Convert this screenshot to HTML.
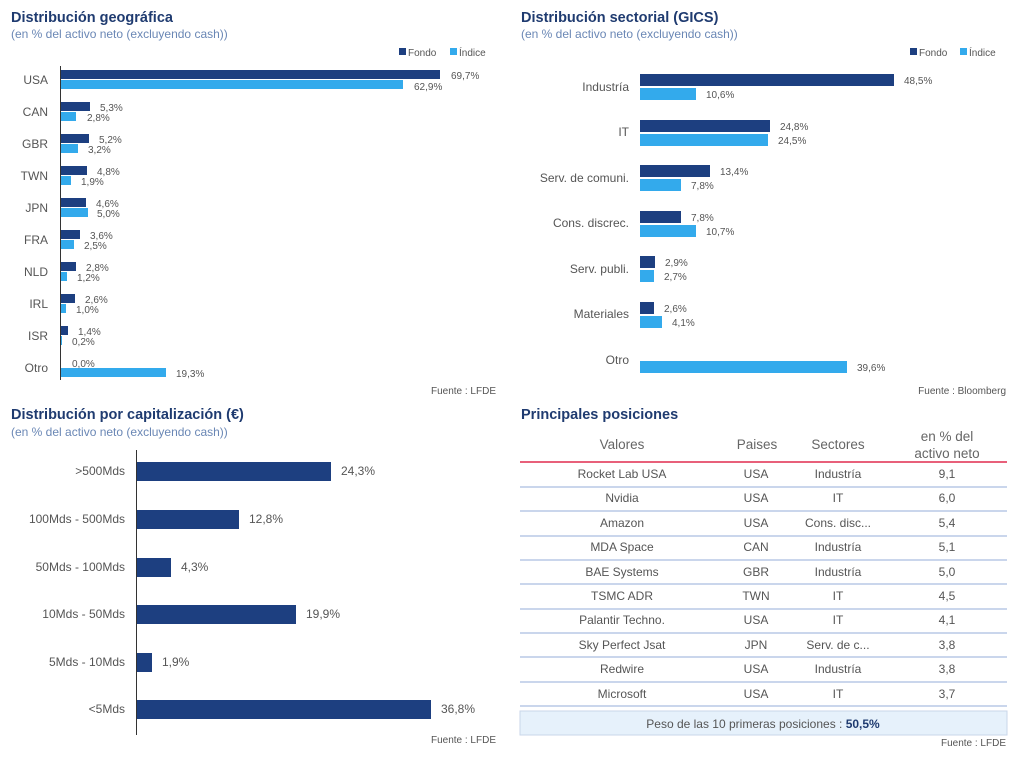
<!DOCTYPE html>
<html><head><meta charset="utf-8"><style>
body{margin:0;background:#fff;}
svg{display:block;font-family:"Liberation Sans",sans-serif;}
.t{font-size:14.5px;font-weight:bold;fill:#1f3b70;}
.s{font-size:12px;fill:#6a87b5;}
.c{font-size:12px;fill:#555;}
.v{font-size:10px;fill:#555;}
.f{font-size:10px;fill:#555;}
.th{font-size:13.5px;fill:#666;}
.td{font-size:12px;fill:#555;}
</style></head><body>
<svg width="1024" height="759" viewBox="0 0 1024 759">
<!-- Geo -->
<text class="t" x="11" y="22">Distribución geográfica</text>
<text class="s" x="11" y="38">(en % del activo neto (excluyendo cash))</text>
<rect x="399" y="48" width="7" height="7" fill="#1d3f80"/><text class="f" x="408" y="56">Fondo</text>
<rect x="450" y="48" width="7" height="7" fill="#33aaec"/><text class="f" x="459" y="56">Índice</text>
<line x1="60.5" y1="66" x2="60.5" y2="380" stroke="#333"/>
<g fill="#1d3f80">
<rect x="61" y="70" width="379" height="9"/><rect x="61" y="102" width="29" height="9"/><rect x="61" y="134" width="28" height="9"/><rect x="61" y="166" width="26" height="9"/><rect x="61" y="198" width="25" height="9"/><rect x="61" y="230" width="19" height="9"/><rect x="61" y="262" width="15" height="9"/><rect x="61" y="294" width="14" height="9"/><rect x="61" y="326" width="7" height="9"/>
</g>
<g fill="#33aaec">
<rect x="61" y="80" width="342" height="9"/><rect x="61" y="112" width="15" height="9"/><rect x="61" y="144" width="17" height="9"/><rect x="61" y="176" width="10" height="9"/><rect x="61" y="208" width="27" height="9"/><rect x="61" y="240" width="13" height="9"/><rect x="61" y="272" width="6" height="9"/><rect x="61" y="304" width="5" height="9"/><rect x="61" y="336" width="1" height="9"/><rect x="61" y="368" width="105" height="9"/>
</g>
<g class="c" text-anchor="end">
<text x="48" y="84">USA</text><text x="48" y="116">CAN</text><text x="48" y="148">GBR</text><text x="48" y="180">TWN</text><text x="48" y="212">JPN</text><text x="48" y="244">FRA</text><text x="48" y="276">NLD</text><text x="48" y="308">IRL</text><text x="48" y="340">ISR</text><text x="48" y="372">Otro</text>
</g>
<g class="v">
<text x="451" y="79">69,7%</text><text x="414" y="90">62,9%</text>
<text x="100" y="111">5,3%</text><text x="87" y="121">2,8%</text>
<text x="99" y="143">5,2%</text><text x="88" y="153">3,2%</text>
<text x="97" y="175">4,8%</text><text x="81" y="185">1,9%</text>
<text x="96" y="207">4,6%</text><text x="97" y="217">5,0%</text>
<text x="90" y="239">3,6%</text><text x="84" y="249">2,5%</text>
<text x="86" y="271">2,8%</text><text x="77" y="281">1,2%</text>
<text x="85" y="303">2,6%</text><text x="76" y="313">1,0%</text>
<text x="78" y="335">1,4%</text><text x="72" y="345">0,2%</text>
<text x="72" y="367">0,0%</text><text x="176" y="377">19,3%</text>
</g>
<text class="f" x="496" y="394" text-anchor="end">Fuente : LFDE</text>

<!-- Sector -->
<text class="t" x="521" y="22">Distribución sectorial (GICS)</text>
<text class="s" x="521" y="38">(en % del activo neto (excluyendo cash))</text>
<rect x="910" y="48" width="7" height="7" fill="#1d3f80"/><text class="f" x="919" y="56">Fondo</text>
<rect x="960" y="48" width="7" height="7" fill="#33aaec"/><text class="f" x="969" y="56">Índice</text>
<g fill="#1d3f80">
<rect x="640" y="74" width="254" height="12"/><rect x="640" y="120" width="130" height="12"/><rect x="640" y="165" width="70" height="12"/><rect x="640" y="211" width="41" height="12"/><rect x="640" y="256" width="15" height="12"/><rect x="640" y="302" width="14" height="12"/>
</g>
<g fill="#33aaec">
<rect x="640" y="88" width="56" height="12"/><rect x="640" y="134" width="128" height="12"/><rect x="640" y="179" width="41" height="12"/><rect x="640" y="225" width="56" height="12"/><rect x="640" y="270" width="14" height="12"/><rect x="640" y="316" width="22" height="12"/><rect x="640" y="361" width="207" height="12"/>
</g>
<g class="c" text-anchor="end">
<text x="629" y="91">Industría</text><text x="629" y="136">IT</text><text x="629" y="182">Serv. de comuni.</text><text x="629" y="227">Cons. discrec.</text><text x="629" y="273">Serv. publi.</text><text x="629" y="318">Materiales</text><text x="629" y="364">Otro</text>
</g>
<g class="v">
<text x="904" y="84">48,5%</text><text x="706" y="98">10,6%</text>
<text x="780" y="130">24,8%</text><text x="778" y="144">24,5%</text>
<text x="720" y="175">13,4%</text><text x="691" y="189">7,8%</text>
<text x="691" y="221">7,8%</text><text x="706" y="235">10,7%</text>
<text x="665" y="266">2,9%</text><text x="664" y="280">2,7%</text>
<text x="664" y="312">2,6%</text><text x="672" y="326">4,1%</text>
<text x="857" y="371">39,6%</text>
</g>
<text class="f" x="1006" y="394" text-anchor="end">Fuente : Bloomberg</text>

<!-- Cap -->
<text class="t" x="11" y="419">Distribución por capitalización (€)</text>
<text class="s" x="11" y="436">(en % del activo neto (excluyendo cash))</text>
<line x1="136.5" y1="450" x2="136.5" y2="735" stroke="#333"/>
<g fill="#1d3f80">
<rect x="137" y="462" width="194" height="19"/><rect x="137" y="510" width="102" height="19"/><rect x="137" y="558" width="34" height="19"/><rect x="137" y="605" width="159" height="19"/><rect x="137" y="653" width="15" height="19"/><rect x="137" y="700" width="294" height="19"/>
</g>
<g class="c" text-anchor="end">
<text x="125" y="475">&gt;500Mds</text><text x="125" y="523">100Mds - 500Mds</text><text x="125" y="571">50Mds - 100Mds</text><text x="125" y="618">10Mds - 50Mds</text><text x="125" y="666">5Mds - 10Mds</text><text x="125" y="713">&lt;5Mds</text>
</g>
<g class="c">
<text x="341" y="475">24,3%</text><text x="249" y="523">12,8%</text><text x="181" y="571">4,3%</text><text x="306" y="618">19,9%</text><text x="162" y="666">1,9%</text><text x="441" y="713">36,8%</text>
</g>
<text class="f" x="496" y="743" text-anchor="end">Fuente : LFDE</text>

<!-- Table -->
<text class="t" x="521" y="419">Principales posiciones</text>
<g class="th" text-anchor="middle">
<text x="622" y="449">Valores</text><text x="757" y="449">Paises</text><text x="838" y="449">Sectores</text><text x="947" y="441">en % del</text><text x="947" y="458">activo neto</text>
</g>
<line x1="520" y1="462" x2="1007" y2="462" stroke="#e8607a" stroke-width="2"/>
<g stroke="#b8c8e6" stroke-width="1.5">
<line x1="520" y1="487" x2="1007" y2="487"/><line x1="520" y1="511" x2="1007" y2="511"/><line x1="520" y1="536" x2="1007" y2="536"/><line x1="520" y1="560" x2="1007" y2="560"/><line x1="520" y1="584" x2="1007" y2="584"/><line x1="520" y1="609" x2="1007" y2="609"/><line x1="520" y1="633" x2="1007" y2="633"/><line x1="520" y1="657" x2="1007" y2="657"/><line x1="520" y1="682" x2="1007" y2="682"/><line x1="520" y1="706" x2="1007" y2="706"/>
</g>
<rect x="520" y="711" width="487" height="24" fill="#e6f1fb" stroke="#c8d6ea"/>
<g class="td" text-anchor="middle">
<text x="622" y="478">Rocket Lab USA</text><text x="756" y="478">USA</text><text x="838" y="478">Industría</text><text x="947" y="478">9,1</text>
<text x="622" y="502">Nvidia</text><text x="756" y="502">USA</text><text x="838" y="502">IT</text><text x="947" y="502">6,0</text>
<text x="622" y="527">Amazon</text><text x="756" y="527">USA</text><text x="838" y="527">Cons. disc...</text><text x="947" y="527">5,4</text>
<text x="622" y="551">MDA Space</text><text x="756" y="551">CAN</text><text x="838" y="551">Industría</text><text x="947" y="551">5,1</text>
<text x="622" y="576">BAE Systems</text><text x="756" y="576">GBR</text><text x="838" y="576">Industría</text><text x="947" y="576">5,0</text>
<text x="622" y="600">TSMC ADR</text><text x="756" y="600">TWN</text><text x="838" y="600">IT</text><text x="947" y="600">4,5</text>
<text x="622" y="624">Palantir Techno.</text><text x="756" y="624">USA</text><text x="838" y="624">IT</text><text x="947" y="624">4,1</text>
<text x="622" y="649">Sky Perfect Jsat</text><text x="756" y="649">JPN</text><text x="838" y="649">Serv. de c...</text><text x="947" y="649">3,8</text>
<text x="622" y="673">Redwire</text><text x="756" y="673">USA</text><text x="838" y="673">Industría</text><text x="947" y="673">3,8</text>
<text x="622" y="698">Microsoft</text><text x="756" y="698">USA</text><text x="838" y="698">IT</text><text x="947" y="698">3,7</text>
</g>
<text class="td" x="763" y="728" text-anchor="middle">Peso de las 10 primeras posiciones :  <tspan font-weight="bold" fill="#1f3b70">50,5%</tspan></text>
<text class="f" x="1006" y="746" text-anchor="end">Fuente : LFDE</text>
</svg>
</body></html>
